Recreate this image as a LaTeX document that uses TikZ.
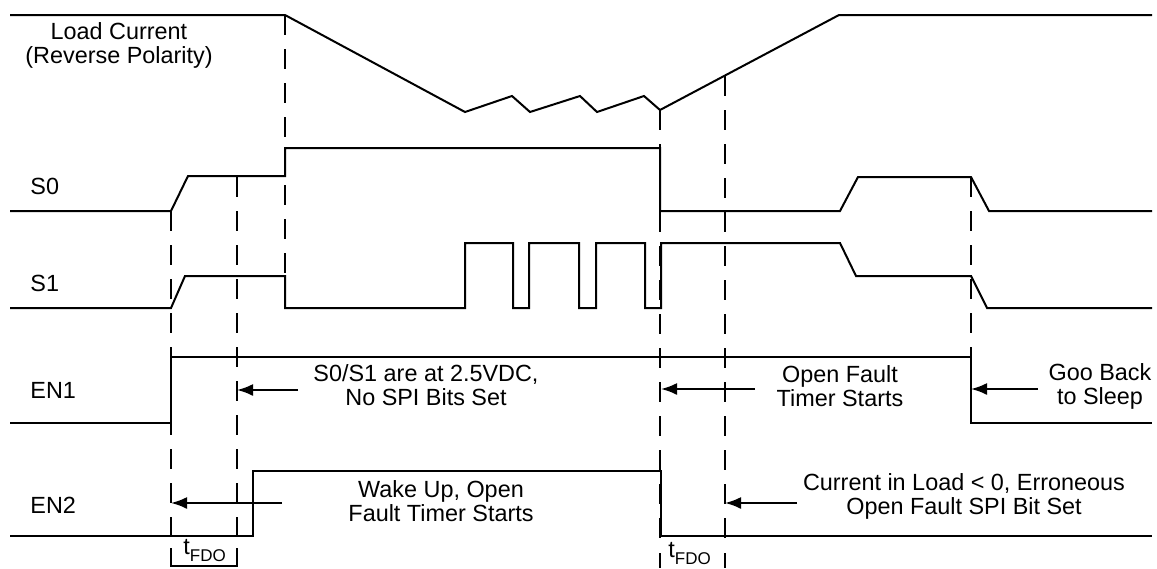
\documentclass[tikz,border=0pt]{standalone}
\usepackage{fontspec}
\setmainfont{Liberation Sans}
\usetikzlibrary{arrows.meta}

\begin{document}
\begin{tikzpicture}[x=0.5pt, y=-0.5pt,
	signal/.style={line width=1pt, line join=miter},
	marker/.style={line width=1pt, dash pattern=on 10pt off 7pt},
	tick/.style={line width=1pt},
	signame/.style={anchor=west, inner sep=0pt, font=\fontsize{11.7}{12}\selectfont},
	note/.style={align=center, inner sep=0pt, font=\fontsize{11.7}{12}\selectfont},
	pointer/.style={-{Latex[length=8pt, width=6pt]}, line width=1pt}]
	\useasboundingbox (0,0) rectangle (1157,568);
	% signal names
	\node[note] (LC) at (119,45) {Load Current\\(Reverse Polarity)};
	\node[signame] (S0) at (30,186) {S0};
	\node[signame] (S1) at (30,283) {S1};
	\node[signame] (EN1) at (30,390) {EN1};
	\node[signame] (EN2) at (30,505) {EN2};
	% waveforms
	\draw[signal] (10,15) -- (285,15) -- (465,112) -- (512,96) -- (530,112) -- (580,96) -- (597,112) -- (644,96) -- (660,110) -- (839,15) -- (1152,15);
	\draw[signal] (10,211) -- (171,211) -- (188,176) -- (285,176) -- (285,148) -- (660,148) -- (660,211) -- (840,211) -- (858,177) -- (971,177) -- (989,211) -- (1152,211);
	\draw[signal] (10,308) -- (171,308) -- (185,276) -- (285,276) -- (285,308) -- (465,308) -- (465,243) -- (513,243) -- (513,308) -- (529,308) -- (529,243) -- (579,243) -- (579,308) -- (596,308) -- (596,243) -- (645,243) -- (645,308) -- (661,308) -- (661,243) -- (840,243) -- (856,276) -- (971,276) -- (987,308) -- (1152,308);
	\draw[signal] (10,423) -- (171,423) -- (171,357) -- (971,357) -- (971,423) -- (1152,423);
	\draw[signal] (10,536) -- (253,536) -- (253,471) -- (661,471) -- (661,536) -- (1152,536);
	% timing markers
	\foreach \x/\ya/\yb in {171/211/540, 237/177/540, 285/15/308, 660/110/540, 725/76/540, 971/177/357}
		\draw[marker] (\x,\ya) -- (\x,\yb);
	\draw[tick] (171,548) -- (171,566) -- (237,566) -- (237,548);
	\draw[tick] (660,553) -- (660,568);
	\draw[tick] (725,553) -- (725,568);
	\node[anchor=base west, inner sep=0pt, font=\fontsize{11.7}{12}\selectfont] (T1) at (183,554) {t\raisebox{-3.5pt}{\fontsize{8.5}{9}\selectfont FDO}};
	\node[anchor=base west, inner sep=0pt, font=\fontsize{11.7}{12}\selectfont] (T2) at (668,557) {t\raisebox{-3.5pt}{\fontsize{8.5}{9}\selectfont FDO}};
	% comments and pointers
	\node[note] (N1) at (426,385) {S0/S1 are at 2.5VDC,\\No SPI Bits Set};
	\node[note] (N2) at (441,501) {Wake Up, Open\\Fault Timer Starts};
	\node[note] (N3) at (840,386) {Open Fault\\Timer Starts};
	\node[note] (N4) at (964,496) {Current in Load < 0, Erroneous\\Open Fault SPI Bit Set};
	\node[note] (N5) at (1100,386) {Goo Back\\to Sleep};
	\coordinate (P1) at (298,390); \coordinate (Q1) at (237,390);
	\coordinate (P2) at (282,503); \coordinate (Q2) at (171,503);
	\coordinate (P3) at (755,389); \coordinate (Q3) at (661,389);
	\coordinate (P4) at (797,503); \coordinate (Q4) at (725,503);
	\coordinate (P5) at (1038,389); \coordinate (Q5) at (971,389);
	\foreach \i in {1,...,5}
		\draw[pointer] (P\i) -- (Q\i);
\end{tikzpicture}
\end{document}
